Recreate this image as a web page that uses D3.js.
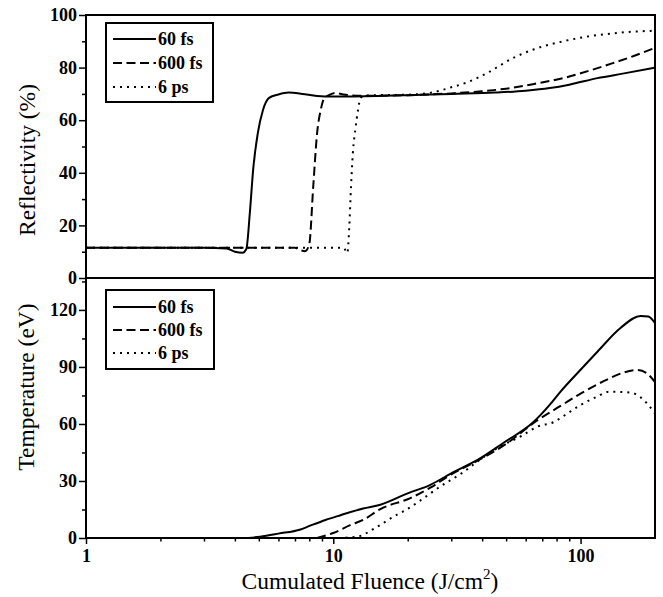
<!DOCTYPE html>
<html>
<head>
<meta charset="utf-8">
<script src="https://cdn.jsdelivr.net/npm/d3@7"></script>
<style>
  html, body { margin: 0; padding: 0; background: #fff; }
  svg { display: block; }
  text { font-family: "Liberation Serif", "Times New Roman", serif; fill: #000; }
</style>
</head>
<body>
<svg id="chart" width="663" height="597"></svg>
<script>
// ---------------- data ----------------
const seriesNames = ["60 fs", "600 fs", "6 ps"];

// Reflectivity (%) vs cumulated fluence (J/cm^2)
const refl60F  = [1, 3.0, 3.7, 4.0, 4.3, 4.45, 4.6, 4.75, 4.95, 5.2, 5.5, 6.0, 6.6, 7.5, 8.6, 10, 15, 20, 30, 45, 60, 75, 90, 117, 150, 200];
const refl60R  = [11.5, 11.5, 11.2, 10.0, 9.6, 11, 25, 42, 55, 64, 68.5, 69.8, 70.5, 70, 69.2, 69, 69.2, 69.5, 70, 70.5, 71.2, 72.2, 73.5, 76, 77.8, 80];
const refl600F = [1, 7.0, 7.4, 7.7, 8.0, 8.3, 8.6, 8.9, 9.2, 9.6, 10.2, 11, 13, 20, 30, 40, 50, 65, 85, 110, 135, 165, 200];
const refl600R = [11.5, 11.5, 10.5, 10.2, 13, 35, 55, 64, 68.4, 69.5, 70.4, 69.8, 69.3, 69.5, 70.2, 71, 72, 73.8, 76, 79, 81.7, 84.5, 87.5];
const refl6psF = [1, 11.0, 11.4, 11.6, 11.8, 12.0, 12.3, 12.6, 12.9, 13.5, 15, 20, 25, 30, 35, 42, 53, 65, 85, 110, 135, 165, 200];
const refl6psR = [11.5, 11.5, 9.5, 19, 35, 47.5, 57, 64, 68.5, 69.3, 69.5, 69.7, 70.5, 72.5, 74.5, 78, 83.5, 87, 90, 92, 93, 93.7, 94];

// Temperature (eV) vs cumulated fluence (J/cm^2)
const temp60F  = [4.5, 5.06, 6, 7.37, 8.07, 9.3, 10.7, 13.2, 15.5, 20, 24.7, 30, 39.4, 48.7, 64.5, 75, 83, 100, 117, 145, 175, 188, 200];
const temp60T  = [0, 0.7, 2.3, 4.5, 6.5, 9.5, 12, 15.5, 17.5, 23.5, 28, 34, 42, 50, 61, 70, 77, 88.5, 98, 110.5, 116.8, 116.5, 113];
const temp600F = [8.6, 9.4, 10, 11.7, 13.2, 15.5, 20.5, 24.7, 30, 40, 50, 67, 83, 100, 124, 149, 170, 186, 200];
const temp600T = [0, 1.5, 2.6, 6.8, 9.5, 15.2, 21, 26.5, 33.5, 42, 49.5, 62, 69.5, 76, 82.5, 87, 88.4, 86.5, 82];
const temp6psF = [10.5, 12.5, 15, 18.2, 19.2, 23.1, 27, 33, 39, 47, 57, 67, 78.5, 85, 100, 115, 131, 160, 175, 200];
const temp6psT = [0, 0.7, 5.8, 12.5, 14, 20.8, 27, 34, 41, 48, 53.3, 58.6, 61.2, 64, 70, 74, 77, 76.5, 74, 65.6];

const reflMajorTicks = [0, 20, 40, 60, 80, 100];
const reflMinorTicks = [10, 30, 50, 70, 90];
const tempMajorTicks = [0, 30, 60, 90, 120];
const tempMinorTicks = [15, 45, 75, 105, 135];
const xMajorTicks = [1, 10, 100];
const xMinorTicks = [2, 3, 4, 5, 6, 7, 8, 9, 20, 30, 40, 50, 60, 70, 80, 90];

// ---------------- layout ----------------
const L = 86, R = 655;
const topT = 15, topB = 278, botT = 278, botB = 538;
const serif = '"Liberation Serif", "Times New Roman", serif';

const svg = d3.select("#chart");

const x = d3.scaleLog().domain([1, 200]).range([L, R]);
const yR = d3.scaleLinear().domain([0, 100]).range([topB, topT]);
const yT = d3.scaleLinear().domain([0, 136.8]).range([botB, botT]);

const dashStyles = [null, "9,4.5", "2,5"];

function zipSeries(F, V) { return F.map((f, i) => [f, V[i]]); }

function drawLines(yScale, sets, clipId, top, bottom) {
  svg.append("clipPath").attr("id", clipId)
    .append("rect").attr("x", L).attr("y", top - 2).attr("width", R - L).attr("height", bottom - top + 2);
  const line = d3.line().x(d => x(d[0])).y(d => yScale(d[1])).curve(d3.curveMonotoneX);
  const g = svg.append("g").attr("clip-path", `url(#${clipId})`);
  sets.forEach((s, i) => {
    g.append("path").datum(s)
      .attr("d", line)
      .attr("fill", "none")
      .attr("stroke", "#000")
      .attr("stroke-width", 2)
      .attr("stroke-dasharray", dashStyles[i]);
  });
}

drawLines(yR, [zipSeries(refl60F, refl60R), zipSeries(refl600F, refl600R), zipSeries(refl6psF, refl6psR)], "clipTop", topT, topB);
drawLines(yT, [zipSeries(temp60F, temp60T), zipSeries(temp600F, temp600T), zipSeries(temp6psF, temp6psT)], "clipBot", botT, botB);

// ---------------- axes ----------------
function styleAxis(g) {
  g.attr("font-family", serif);
  g.select(".domain").remove();
  g.selectAll(".tick line").attr("stroke", "#000").attr("stroke-width", 1.5);
  g.selectAll(".tick text").attr("font-size", 18).attr("font-weight", "bold")
    .attr("font-family", serif).style("font-family", serif);
}

// top y axis
svg.append("g").attr("transform", `translate(${L},0)`)
  .call(d3.axisLeft(yR).tickValues(reflMajorTicks).tickSize(7).tickPadding(2).tickFormat(d3.format("d")))
  .call(styleAxis);
svg.append("g").attr("transform", `translate(${L},0)`)
  .call(d3.axisLeft(yR).tickValues(reflMinorTicks).tickSize(4).tickFormat(""))
  .call(styleAxis);

// bottom y axis
svg.append("g").attr("transform", `translate(${L},0)`)
  .call(d3.axisLeft(yT).tickValues(tempMajorTicks).tickSize(7).tickPadding(2).tickFormat(d3.format("d")))
  .call(styleAxis);
svg.append("g").attr("transform", `translate(${L},0)`)
  .call(d3.axisLeft(yT).tickValues(tempMinorTicks.filter(v => yT(v) >= botT + 2)).tickSize(4).tickFormat(""))
  .call(styleAxis);

// x axis
svg.append("g").attr("transform", `translate(0,${botB})`)
  .call(d3.axisBottom(x).tickValues(xMajorTicks).tickSize(6).tickPadding(5).tickFormat(d3.format("d")))
  .call(styleAxis);
svg.append("g").attr("transform", `translate(0,${botB})`)
  .call(d3.axisBottom(x).tickValues(xMinorTicks).tickSize(3.5).tickFormat(""))
  .call(styleAxis);

// frames
svg.append("rect").attr("x", L).attr("y", topT).attr("width", R - L).attr("height", topB - topT)
  .attr("fill", "none").attr("stroke", "#000").attr("stroke-width", 2);
svg.append("rect").attr("x", L).attr("y", botT).attr("width", R - L).attr("height", botB - botT)
  .attr("fill", "none").attr("stroke", "#000").attr("stroke-width", 2);

// ---------------- titles ----------------
svg.append("text")
  .attr("transform", `translate(35,160) rotate(-90)`)
  .attr("text-anchor", "middle").attr("font-size", 23.5).attr("font-family", serif)
  .text("Reflectivity (%)");
svg.append("text")
  .attr("transform", `translate(34,387) rotate(-90)`)
  .attr("text-anchor", "middle").attr("font-size", 23.5).attr("font-family", serif)
  .text("Temperature (eV)");
const xt = svg.append("text")
  .attr("x", 370).attr("y", 589)
  .attr("text-anchor", "middle").attr("font-size", 23.5).attr("font-family", serif);
xt.append("tspan").text("Cumulated Fluence (J/cm");
xt.append("tspan").attr("font-size", 15).attr("dy", -10).text("2");
xt.append("tspan").attr("dy", 10).text(")");

// ---------------- legends ----------------
function legend(x0, y0, w, h, rows) {
  svg.append("rect").attr("x", x0).attr("y", y0).attr("width", w).attr("height", h)
    .attr("fill", "#fff").attr("stroke", "#000").attr("stroke-width", 2);
  seriesNames.forEach((name, i) => {
    const yy = rows[i];
    svg.append("line").attr("x1", x0 + 7).attr("x2", x0 + 50).attr("y1", yy).attr("y2", yy)
      .attr("stroke", "#000").attr("stroke-width", 2).attr("stroke-dasharray", dashStyles[i]);
    svg.append("text").attr("x", x0 + 52).attr("y", yy).attr("dy", "0.35em")
      .attr("font-size", 18).attr("font-weight", "bold").attr("font-family", serif).text(name);
  });
}
legend(106, 23, 107, 79, [39, 63, 87]);
legend(106, 290, 108, 79, [307, 330, 353]);
</script>
</body>
</html>
